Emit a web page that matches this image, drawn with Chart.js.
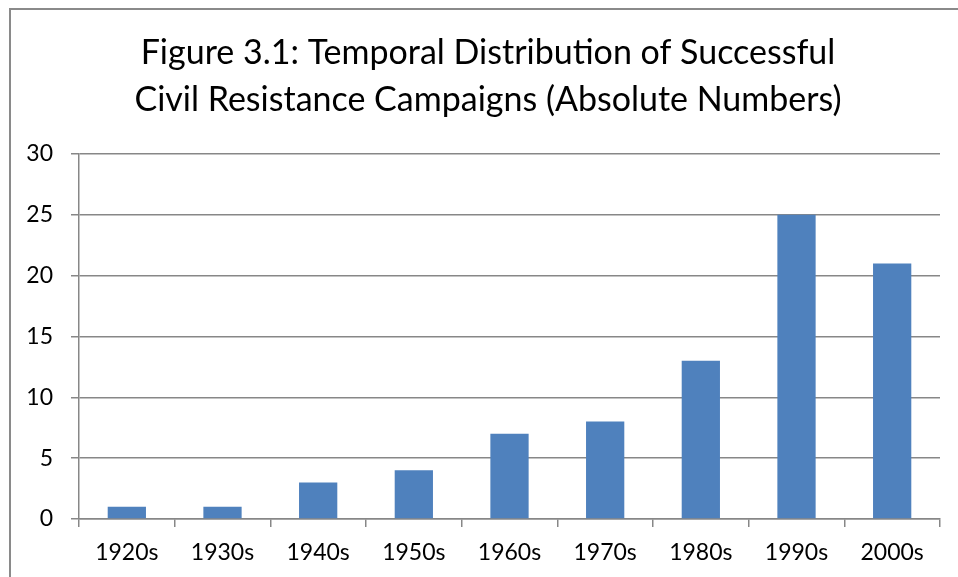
<!DOCTYPE html>
<html>
<head>
<meta charset="utf-8">
<script src="https://cdn.jsdelivr.net/npm/chart.js@4.4.1/dist/chart.umd.min.js"></script>
<style>
html,body{margin:0;padding:0;background:#fff;}
#wrap{width:958px;height:577px;position:relative;}
</style>
</head>
<body>
<div id="wrap"><canvas id="c" width="958" height="577"></canvas></div>
<script>
const categories = ["1920s","1930s","1940s","1950s","1960s","1970s","1980s","1990s","2000s"];
const campaigns = [1,1,3,4,7,8,13,25,21];
const titleLines = ["Figure 3.1: Temporal Distribution of Successful","Civil Resistance Campaigns (Absolute Numbers)"];
const yMin = 0, yMax = 30, yStep = 5;

const FONT = "Lato, 'Open Sans', sans-serif";
const GRID = "#878787";

const frame = {
  id: 'frame',
  beforeDraw(chart) {
    const ctx = chart.ctx;
    ctx.save();
    ctx.fillStyle = '#fff';
    ctx.fillRect(0, 0, chart.width, chart.height);
    ctx.strokeStyle = '#8a8a8a';
    ctx.lineWidth = 2;
    ctx.strokeRect(10, 9, chart.width + 20, chart.height + 20);
    ctx.restore();
  }
};

new Chart(document.getElementById('c'), {
  type: 'bar',
  data: {
    labels: categories,
    datasets: [{
      data: campaigns,
      backgroundColor: '#4F81BD',
      borderWidth: 0,
      categoryPercentage: 1.0,
      barPercentage: 0.4
    }]
  },
  plugins: [frame],
  options: {
    responsive: false,
    animation: false,
    devicePixelRatio: 1,
    layout: { padding: { left: 18, right: 0, top: 0, bottom: 0 } },
    plugins: {
      legend: { display: false },
      tooltip: { enabled: false },
      title: {
        display: true,
        text: titleLines,
        color: '#000',
        font: { family: FONT, size: 34, weight: 'normal', lineHeight: 1.38 },
        padding: { top: 30, bottom: 30 }
      }
    },
    scales: {
      x: {
        afterFit(s) { s.height = 58; },
        grid: { display: true, drawOnChartArea: false, drawTicks: true, tickLength: 8, color: GRID, lineWidth: 1.5, offset: true },
        border: { display: true, color: GRID, width: 1.5 },
        ticks: { color: '#000', font: { family: FONT, size: 23 }, padding: 12, maxRotation: 0 }
      },
      y: {
        min: yMin, max: yMax,
        afterFit(s) { s.width = 61; },
        grid: { display: true, drawOnChartArea: true, drawTicks: true, tickLength: 8, color: GRID, lineWidth: 1.5 },
        border: { display: true, color: GRID, width: 1.5 },
        ticks: { stepSize: yStep, color: '#000', font: { family: FONT, size: 23 }, padding: 18 }
      },
      yRight: {
        position: 'right',
        display: true,
        min: yMin, max: yMax,
        afterFit(s) { s.width = 18; },
        grid: { display: false, drawTicks: false },
        border: { display: false },
        ticks: { display: false }
      }
    }
  }
});
</script>
</body>
</html>
